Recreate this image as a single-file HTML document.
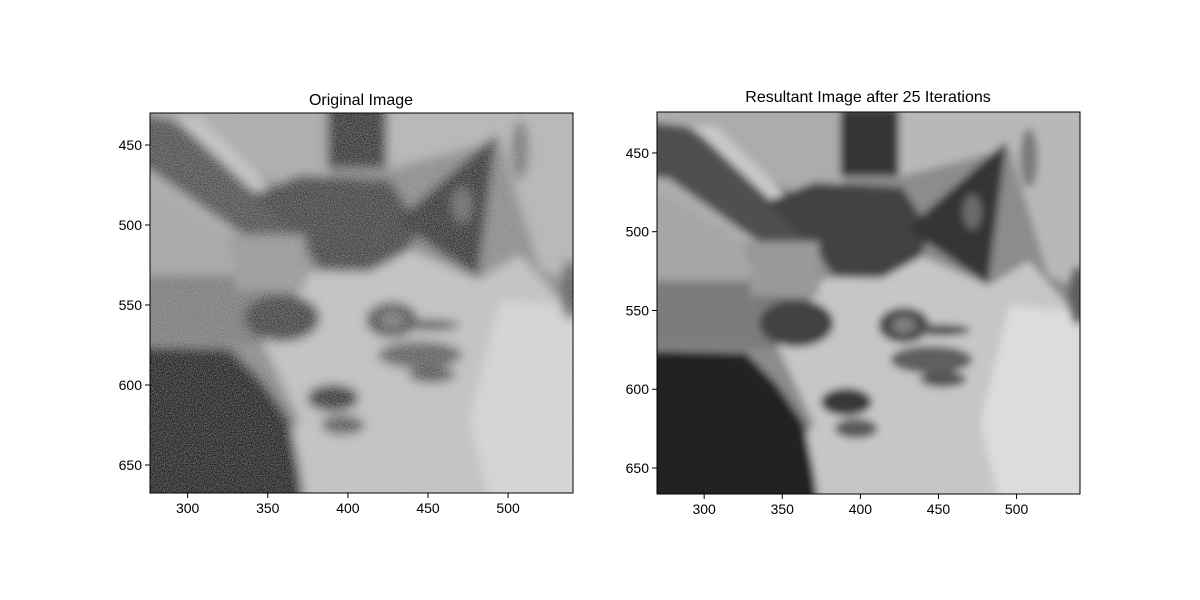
<!DOCTYPE html>
<html><head><meta charset="utf-8">
<style>
html,body{margin:0;padding:0;background:#fff;}
svg{display:block;font-family:"Liberation Sans","DejaVu Sans",sans-serif;}
</style></head>
<body>
<svg id="fig" width="1200" height="600" viewBox="0 0 1200 600" xmlns="http://www.w3.org/2000/svg">
<defs>
  <filter id="blurL" x="-10%" y="-10%" width="120%" height="120%"><feGaussianBlur stdDeviation="5"/></filter>
  <filter id="blurR" x="-10%" y="-10%" width="120%" height="120%"><feGaussianBlur stdDeviation="4"/></filter>
  <filter id="noise" x="0" y="0" width="100%" height="100%">
    <feTurbulence type="fractalNoise" baseFrequency="0.9" numOctaves="1" seed="3" result="t"/>
    <feColorMatrix type="matrix" values="0 0 0 0 0.5  0 0 0 0 0.5  0 0 0 0 0.5  0 0 0 1.6 -0.5"/>
  </filter>
  <clipPath id="clipL"><rect x="150" y="113" width="423" height="380"/></clipPath>
  <clipPath id="clipR"><rect x="657" y="112" width="423" height="382"/></clipPath>
  <g id="cat">
    <rect x="100" y="60" width="520" height="480" fill="#8c8c8c"/>
    <!-- top-left light region -->
    <polygon points="100,60 330,60 330,180 260,230 100,270" fill="#acacac"/>
    <!-- dark diagonal band -->
    <polygon points="100,110 170,118 300,200 305,245 250,240 150,170 100,170" fill="#505050"/>
    <polygon points="175,118 200,118 300,215 290,225" fill="#c8c8c8"/>
    <polygon points="100,190 150,190 230,240 240,280 100,285" fill="#a6a6a6"/>
    <!-- top right light -->
    <polygon points="385,60 620,60 620,300 540,270 500,140 385,170" fill="#b8b8b8"/>
    <!-- dark rectangle top -->
    <rect x="327" y="100" width="60" height="68" fill="#363636"/>
    <!-- left middle band -->
    <polygon points="100,275 240,275 290,300 280,345 100,340" fill="#7c7c7c"/>
    <!-- forehead dark -->
    <polygon points="250,195 300,175 390,180 420,225 400,270 360,272 320,270 300,240" fill="#424242"/>
    <!-- right ear -->
    <polygon points="497,133 395,222 478,278" fill="#363636"/>
    <ellipse cx="462" cy="205" rx="10" ry="18" fill="#6a6a6a"/>
    <!-- face light -->
    <polygon points="310,272 370,272 410,250 478,280 520,255 560,300 620,310 620,540 300,540 268,470 300,420 262,340 300,290" fill="#c6c6c6"/>
    <polygon points="500,300 620,310 620,540 500,540 470,420" fill="#dcdcdc"/>
    <!-- left cheek panel -->
    <rect x="235" y="235" width="70" height="55" fill="#9a9a9a"/>
    <!-- bottom-left dark -->
    <polygon points="100,345 230,348 262,380 290,420 300,470 310,540 100,540" fill="#242424"/>
    <!-- eyes -->
    <ellipse cx="282" cy="318" rx="38" ry="24" fill="#424242"/>
    <ellipse cx="392" cy="320" rx="26" ry="18" fill="#4a4a4a"/>
    <ellipse cx="392" cy="320" rx="12" ry="9" fill="#7e7e7e"/>
    <ellipse cx="430" cy="325" rx="30" ry="6" fill="#555"/>
    <ellipse cx="420" cy="355" rx="42" ry="14" fill="#5e5e5e"/>
    <ellipse cx="432" cy="375" rx="24" ry="8" fill="#555"/>
    <!-- nose and mouth -->
    <ellipse cx="333" cy="398" rx="26" ry="14" fill="#383838"/>
    <ellipse cx="343" cy="425" rx="22" ry="10" fill="#5a5a5a"/>
    <!-- right side spots -->
    <ellipse cx="520" cy="150" rx="9" ry="30" fill="#7a7a7a"/>
    <ellipse cx="570" cy="290" rx="10" ry="30" fill="#5e5e5e"/>
  </g>
</defs>

<g clip-path="url(#clipL)">
  <g filter="url(#blurL)"><use href="#cat"/></g>
  <rect x="150" y="113" width="423" height="380" filter="url(#noise)" opacity="0.7"/>
</g>
<rect x="150" y="113" width="423" height="380" fill="none" stroke="#000" stroke-width="1"/>
<text x="361" y="105" font-size="16" text-anchor="middle">Original Image</text>

<g clip-path="url(#clipR)">
  <g filter="url(#blurR)"><g transform="translate(667.5,121.5) scale(0.977,0.984) translate(-150,-113)"><use href="#cat"/></g></g>
</g>
<rect x="657" y="112" width="423" height="382" fill="none" stroke="#000" stroke-width="1"/>
<text x="868" y="102" font-size="16" text-anchor="middle">Resultant Image after 25 Iterations</text>

<g id="ticks"></g>
</svg>
<script>
const xTicks = [300, 350, 400, 450, 500];
const yTicks = [450, 500, 550, 600, 650];
const panels = [
  {name:'left', x0:150, x1:573, y0:113, y1:493, dx0:276.5, dx1:540.5, dy0:430, dy1:667.5},
  {name:'right', x0:657, x1:1080, y0:112, y1:494, dx0:269.8, dx1:540.6, dy0:424, dy1:666.5}
];
const NS = 'http://www.w3.org/2000/svg';
const g = document.getElementById('ticks');
function mk(tag, attrs){const e=document.createElementNS(NS,tag);for(const k in attrs)e.setAttribute(k,attrs[k]);return e;}
panels.forEach(p=>{
  const sx = v => p.x0 + (v-p.dx0)/(p.dx1-p.dx0)*(p.x1-p.x0);
  const sy = v => p.y0 + (v-p.dy0)/(p.dy1-p.dy0)*(p.y1-p.y0);
  xTicks.forEach(t=>{
    const x = sx(t);
    const l = mk('line',{x1:x,x2:x,y1:p.y1,y2:p.y1+5,stroke:'#000','stroke-width':1});
    
    
    g.appendChild(l);
    const tx = mk('text',{x:x,y:p.y1+20,'font-size':14,'text-anchor':'middle'});
    
    
    tx.textContent = t;
    g.appendChild(tx);
  });
  yTicks.forEach(t=>{
    const y = sy(t);
    const l = mk('line',{x1:p.x0-5,x2:p.x0,y1:y,y2:y,stroke:'#000','stroke-width':1});
    
    
    g.appendChild(l);
    const tx = mk('text',{x:p.x0-8,y:y+5,'font-size':14,'text-anchor':'end'});
    
    
    tx.textContent = t;
    g.appendChild(tx);
  });
});
</script>
</body></html>
